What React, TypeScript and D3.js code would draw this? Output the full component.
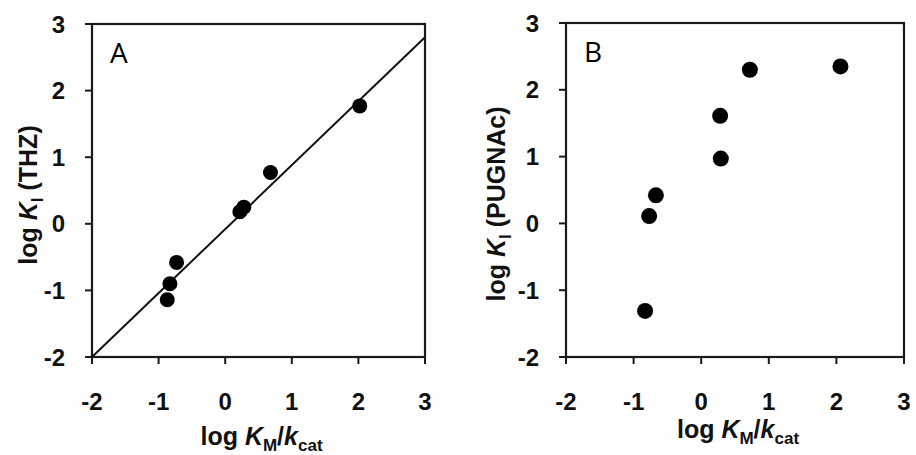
import React from "react";
import * as d3 from "d3";

// ---- data ----
const xTicks = [-2, -1, 0, 1, 2, 3];
const yTicks = [-2, -1, 0, 1, 2, 3];

// Panel A: log KI (THZ) vs log KM/kcat
const thzX = [-0.87, -0.83, -0.73, 0.22, 0.28, 0.68, 2.02];
const thzY = [-1.14, -0.9, -0.58, 0.18, 0.25, 0.77, 1.77];
const fitSlope = 0.96;
const fitIntercept = -0.08;

// Panel B: log KI (PUGNAc) vs log KM/kcat
const pugX = [-0.83, -0.77, -0.67, 0.28, 0.29, 0.72, 2.06];
const pugY = [-1.31, 0.11, 0.42, 1.61, 0.97, 2.3, 2.35];

const panelLabels = ["A", "B"];

const W = 916;
const H = 455;

const tickFont = "'Liberation Sans', Arial, sans-serif";

type PanelProps = {
  xr: [number, number];
  yr: [number, number];
  xs: number[];
  ys: number[];
  r: number;
  label: string;
  yTitleTail: string;
  yTitleX: number;
  yTitleY: number;
  xTitleY: number;
  fit?: boolean;
};

function Panel(p: PanelProps) {
  const x = d3.scaleLinear().domain([-2, 3]).range(p.xr);
  const y = d3.scaleLinear().domain([-2, 3]).range(p.yr);
  const [x0, x1] = p.xr;
  const [y0, y1] = p.yr; // y0 bottom, y1 top
  const line = d3
    .line<number>()
    .x((d) => x(d))
    .y((d) => y(fitSlope * d + fitIntercept));
  const xc = (x0 + x1) / 2;
  return (
    <g>
      <rect
        x={x0}
        y={y1}
        width={x1 - x0}
        height={y0 - y1}
        fill="none"
        stroke="#1a1a1a"
        strokeWidth={2.2}
      />
      {xTicks.map((t) => (
        <g key={"x" + t}>
          <line x1={x(t)} x2={x(t)} y1={y0} y2={y0 + 7} stroke="#1a1a1a" strokeWidth={2} />
          <text
            x={x(t)}
            y={y0 + 53}
            textAnchor="middle"
            fontFamily={tickFont}
            fontWeight="bold"
            fontSize={24}
            fill="#111"
          >
            {t < 0 ? "-" + Math.abs(t) : String(t)}
          </text>
        </g>
      ))}
      {yTicks.map((t) => (
        <g key={"y" + t}>
          <line x1={x0 - 7} x2={x0} y1={y(t)} y2={y(t)} stroke="#1a1a1a" strokeWidth={2} />
          <text
            x={x0 - 27}
            y={y(t) + 8.5}
            textAnchor="end"
            fontFamily={tickFont}
            fontWeight="bold"
            fontSize={24}
            fill="#111"
          >
            {t < 0 ? "-" + Math.abs(t) : String(t)}
          </text>
        </g>
      ))}
      {p.fit && (
        <path d={line([-2, 3]) || ""} fill="none" stroke="#111" strokeWidth={2} />
      )}
      {p.xs.map((v, i) => (
        <circle key={"p" + i} cx={x(v)} cy={y(p.ys[i])} r={p.r} fill="#000" />
      ))}
      <text
        x={x0 + 18}
        y={y1 + 39}
        fontFamily="'Open Sans', 'Liberation Sans', sans-serif"
        fontSize={28}
        fill="#000"
      >
        {p.label}
      </text>
      <text
        x={xc + 3}
        y={p.xTitleY}
        textAnchor="middle"
        fontFamily={tickFont}
        fontWeight="bold"
        fontSize={25}
        fill="#111"
      >
        <tspan>log </tspan>
        <tspan fontStyle="italic">K</tspan>
        <tspan fontSize={17} dy={6}>M</tspan>
        <tspan dy={-6}>/</tspan>
        <tspan fontStyle="italic">k</tspan>
        <tspan fontSize={17} dy={6}>cat</tspan>
      </text>
      <text
        transform={`translate(${p.yTitleX},${p.yTitleY}) rotate(-90)`}
        textAnchor="middle"
        fontFamily={tickFont}
        fontWeight="bold"
        fontSize={25}
        fill="#111"
      >
        <tspan>log </tspan>
        <tspan fontStyle="italic">K</tspan>
        <tspan fontSize={17} dy={6}>I</tspan>
        <tspan dy={-6}> {p.yTitleTail}</tspan>
      </text>
    </g>
  );
}

export default function App() {
  return (
    <svg
      width={W}
      height={H}
      style={{ position: "absolute", left: 0, top: 0, background: "#fff" }}
    >
      <rect x={0} y={0} width={W} height={H} fill="#fff" />
      <Panel
        xr={[92, 425]}
        yr={[357, 24]}
        xs={thzX}
        ys={thzY}
        r={7.5}
        label={panelLabels[0]}
        yTitleTail="(THZ)"
        yTitleX={37}
        yTitleY={195}
        xTitleY={445}
        fit
      />
      <Panel
        xr={[566, 904]}
        yr={[357, 23]}
        xs={pugX}
        ys={pugY}
        r={8}
        label={panelLabels[1]}
        yTitleTail="(PUGNAc)"
        yTitleX={505}
        yTitleY={204}
        xTitleY={438}
      />
    </svg>
  );
}
